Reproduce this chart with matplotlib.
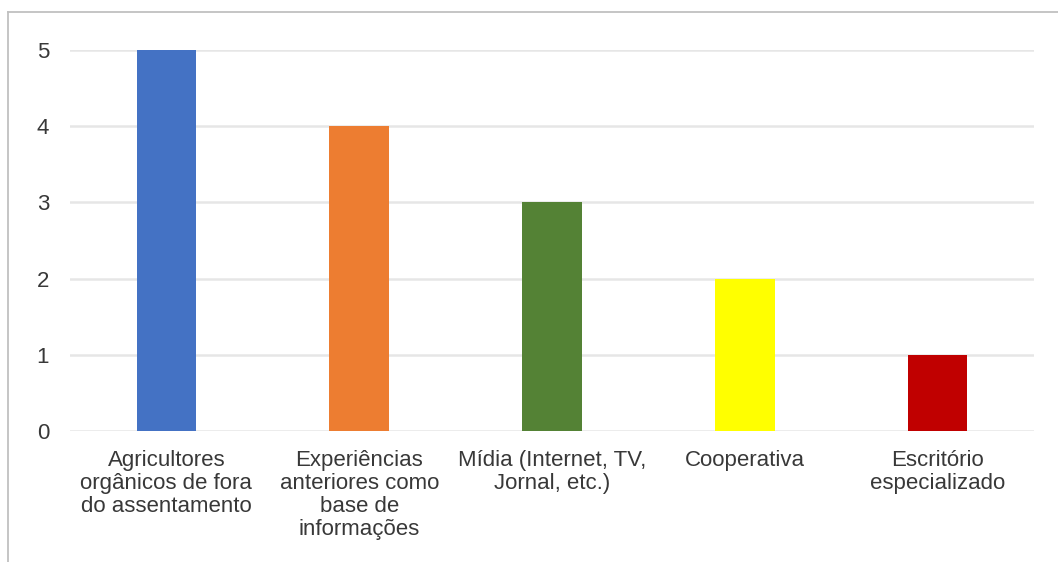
import matplotlib.pyplot as plt
from matplotlib.lines import Line2D

# Data
categorias = ["Agricultores\norgânicos de fora\ndo assentamento",
              "Experiências\nanteriores como\nbase de\ninformações",
              "Mídia (Internet, TV,\nJornal, etc.)",
              "Cooperativa",
              "Escritório\nespecializado"]
valores = [5, 4, 3, 2, 1]
cores = ["#4472C4", "#ED7D31", "#548235", "#FFFF00", "#C00000"]
yticks = [0, 1, 2, 3, 4, 5]

plt.rcParams['font.family'] = ['Liberation Sans', 'DejaVu Sans']

W, H = 1058, 562
fig = plt.figure(figsize=(W / 100, H / 100), dpi=100)
ax = fig.add_axes([70 / W, (H - 431) / H, (1034 - 70) / W, (431 - 50) / H])

x = range(len(categorias))
ax.bar(x, valores, width=0.31, color=cores, zorder=3)

ax.set_xlim(-0.5, len(categorias) - 0.5)
ax.set_ylim(0, 5)
ax.set_yticks(yticks)
ax.set_yticklabels([str(v) for v in yticks])
ax.set_xticks(list(x))
ax.set_xticklabels(categorias, linespacing=1.12, va='top')
ax.grid(axis='y', color='#e6e6e6', lw=1.8, zorder=0)
ax.set_axisbelow(True)
for s in ax.spines.values():
    s.set_visible(False)
ax.tick_params(axis='both', length=0, labelsize=16, colors='#383838')
ax.tick_params(axis='y', pad=15)
ax.tick_params(axis='x', pad=14)
ax.set_clip_on(False)

# thin frame along the top and left of the image
fig.add_artist(Line2D([8 / W, 1], [(H - 12) / H, (H - 12) / H],
                      color='#c0c0c0', lw=1.3, transform=fig.transFigure))
fig.add_artist(Line2D([8 / W, 8 / W], [0, (H - 12) / H],
                      color='#c0c0c0', lw=1.3, transform=fig.transFigure))

fig.savefig("out.png", dpi=100)
